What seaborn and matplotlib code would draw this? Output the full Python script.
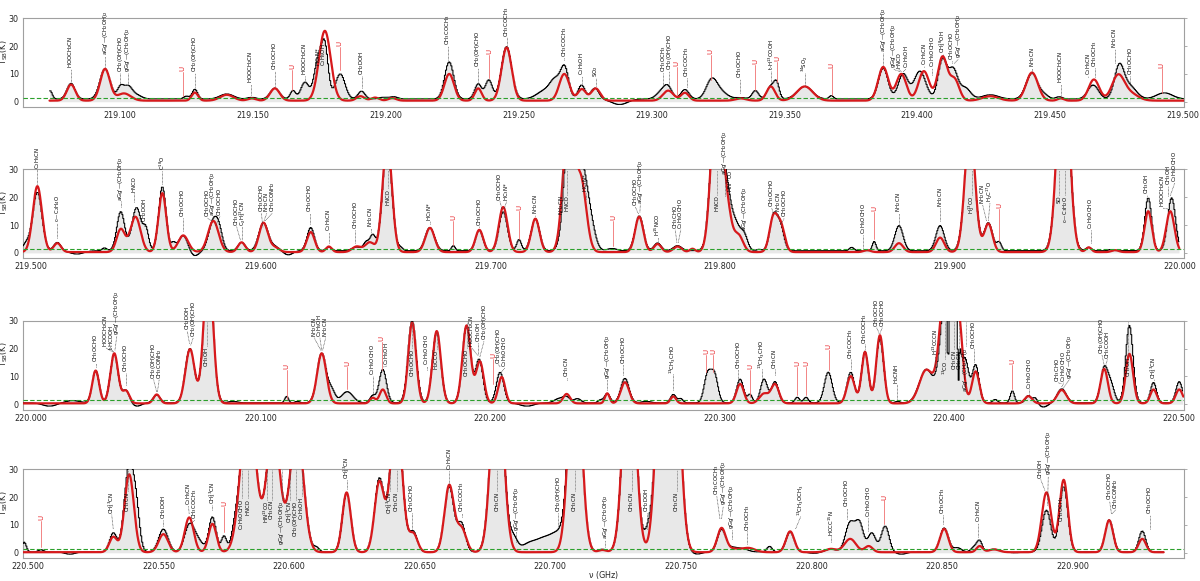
import numpy as np
import matplotlib
matplotlib.use("Agg")
import matplotlib.pyplot as plt
import seaborn as sns

sns.set_theme(style="white")
plt.rcParams["font.family"] = ["DejaVu Sans"]
plt.rcParams["mathtext.default"] = "regular"

# ---------------- species names ----------------
AGG = "aGg'—(CH$_2$OH)$_2$"
GGG = "gGg'—(CH$_2$OH)$_2$"
MF = "CH$_3$OCHO"
GA = "CH$_2$(OH)CHO"
HOOC = "HOOCH$_2$CN"
ETOH = "C$_2$H$_5$OH"
ETCN = "C$_2$H$_5$CN"
EF = "C$_2$H$_5$OCHO"
ACE = "CH$_3$COCH$_3$"
DME = "CH$_3$OCH$_3$"
NH2CN = "NH$_2$CN"
HNCO = "HNCO"
HC3N = "HC$_3$N*"
MECN = "CH$_3$CN"
ME13CN = "CH$_3^{13}$CN"
DOH = "CH$_2$DOH"
MEOH = "CH$_3$OH"
AMID = "CH$_3$CONH$_2$"

# ---------------- panel axis ranges (GHz) ----------------
P1_XLIM = (219.0634, 219.5004)
P2_XLIM = (219.4964, 220.0020)
P3_XLIM = (219.9963, 220.5023)
P4_XLIM = (220.4979, 220.9428)
P1_DATA = (219.0735, 219.5004)
P2_DATA = (219.4966, 220.0000)
P3_DATA = (219.9965, 220.5020)
P4_DATA = (220.4981, 220.9350)
P1_TICKS = [219.100, 219.150, 219.200, 219.250, 219.300, 219.350, 219.400, 219.450, 219.500]
P2_TICKS = [219.500, 219.600, 219.700, 219.800, 219.900, 220.000]
P3_TICKS = [220.000, 220.100, 220.200, 220.300, 220.400, 220.500]
P4_TICKS = [220.500, 220.550, 220.600, 220.650, 220.700, 220.750, 220.800, 220.850, 220.900]
Y_TICKS = [0, 10, 20, 30]
THRESHOLD_K = 1.5
OBS_BASE = [1.0, 0.8, 0.5, 0.3]
MOD_BASE = [0.4, 0.3, 0.3, 0.2]

# ---------------- line components: (centre GHz, peak K, sigma MHz) ----------------
P1_OBS = [
    (219.0737, 3.0, 0.8), (219.0816, 5.6, 1.5), (219.0944, 10.8, 1.9), (219.1002, 4.2, 1.2),
    (219.1030, 4.2, 1.5), (219.1060, 1.5, 2.0), (219.1250, 1.0, 1.0), (219.1282, 3.5, 1.0),
    (219.1402, 1.8, 2.5), (219.1496, 0.6, 1.5), (219.1583, 3.9, 1.7), (219.1651, 3.0, 1.0),
    (219.1696, 6.0, 1.5), (219.1745, 13.0, 1.5), (219.1771, 18.0, 1.3), (219.1829, 9.0, 1.8),
    (219.1909, 2.8, 1.3), (219.1990, 0.6, 1.5), (219.2030, 0.8, 1.5), (219.2239, 13.3, 1.7),
    (219.2348, 5.4, 1.3), (219.2388, 6.8, 1.3), (219.2455, 18.8, 1.9), (219.2600, 3.0, 3.0),
    (219.2640, 6.0, 2.0), (219.2674, 10.5, 1.5), (219.2737, 5.0, 1.3), (219.2787, 3.9, 1.5),
    (219.2880, -2.0, 3.0), (219.3040, 2.8, 2.0), (219.3063, 3.5, 1.5), (219.3126, 3.4, 1.5),
    (219.3226, 6.5, 2.0), (219.3260, 2.5, 2.5), (219.3336, 0.5, 2.0), (219.3391, 3.0, 1.2),
    (219.3449, 4.5, 1.4), (219.3471, 5.3, 1.0), (219.3577, 4.5, 2.8), (219.3677, 1.2, 0.8),
    (219.3872, 11.0, 1.8), (219.3947, 9.0, 1.8), (219.4010, 10.0, 2.2), (219.4095, 14.0, 1.6),
    (219.4135, 10.5, 1.7), (219.4180, 4.0, 2.0), (219.4275, 1.5, 3.0), (219.4432, 9.2, 2.2),
    (219.4480, 1.2, 1.5), (219.4534, 0.8, 1.2), (219.4662, 5.0, 2.0), (219.4760, 11.5, 1.8),
    (219.4800, 4.5, 2.5), (219.4930, 2.2, 3.0),
]
P1_MOD = [
    (219.0816, 5.8, 1.6), (219.0944, 11.4, 1.8), (219.1015, 2.6, 2.5), (219.1282, 2.9, 1.2),
    (219.1402, 2.1, 2.5), (219.1496, 0.8, 1.5), (219.1583, 4.4, 1.8), (219.1771, 25.1, 2.2),
    (219.1905, 1.6, 1.5), (219.1960, 1.1, 1.5), (219.2025, 0.9, 1.5), (219.2239, 9.6, 1.8),
    (219.2348, 4.4, 1.3), (219.2455, 19.1, 1.9), (219.2672, 9.6, 1.9), (219.2738, 4.1, 1.5),
    (219.2790, 4.4, 1.7), (219.3063, 3.6, 2.0), (219.3126, 2.8, 1.5), (219.3336, 0.8, 2.0),
    (219.3449, 5.1, 1.6), (219.3577, 5.1, 3.0), (219.3872, 12.1, 1.9), (219.3940, 9.6, 1.9),
    (219.4025, 10.6, 2.0), (219.4095, 15.6, 1.8), (219.4140, 7.6, 1.8), (219.4275, 1.6, 3.0),
    (219.4432, 10.1, 2.2), (219.4540, 0.8, 1.2), (219.4665, 7.6, 2.0), (219.4755, 8.6, 2.3),
    (219.4800, 2.6, 3.0),
]
P2_OBS = [
    (219.4980, 2.5, 1.5), (219.5028, 21.0, 2.0), (219.5115, 3.0, 1.5), (219.5200, -1.2, 3.0),
    (219.5320, 1.0, 1.0), (219.5391, 14.0, 1.7), (219.5460, 15.5, 2.0), (219.5501, 7.0, 1.2),
    (219.5572, 23.0, 1.6), (219.5620, 2.5, 1.0), (219.5663, 5.5, 2.0), (219.5710, -2.0, 2.0),
    (219.5794, 10.5, 2.0), (219.5820, 5.5, 1.5), (219.5917, 3.0, 1.5), (219.6012, 10.0, 2.0),
    (219.6060, 1.5, 2.0), (219.6120, -1.5, 2.0), (219.6218, 8.3, 1.6), (219.6297, 1.3, 1.2),
    (219.6418, 1.3, 2.0), (219.6460, 3.0, 1.2), (219.6488, 5.5, 1.2), (219.6551, 38.0, 2.0),
    (219.6610, 1.0, 1.0), (219.6737, 8.3, 2.0), (219.6839, 1.8, 0.8), (219.6952, 7.3, 1.6),
    (219.7056, 14.0, 1.8), (219.7125, 4.0, 1.0), (219.7196, 11.5, 1.8), (219.7347, 50.0, 2.3),
    (219.7400, 28.0, 2.5), (219.7440, 6.0, 2.0), (219.7530, 0.8, 2.0), (219.7648, 12.5, 1.8),
    (219.7728, 2.8, 1.5), (219.7815, 1.8, 1.8), (219.7985, 60.0, 2.3), (219.8030, 17.0, 2.0),
    (219.8070, 8.5, 2.0), (219.8106, 5.0, 1.5), (219.8170, 0.5, 1.0), (219.8232, 12.0, 1.6),
    (219.8262, 8.5, 1.6), (219.8573, 1.2, 1.0), (219.8671, 3.3, 0.8), (219.8779, 9.0, 1.8),
    (219.8958, 9.0, 1.8), (219.9088, 45.0, 2.2), (219.9168, 10.0, 1.8), (219.9215, 3.0, 1.0),
    (219.9494, 75.0, 2.5), (219.9605, 1.2, 1.2), (219.9700, 0.4, 1.0), (219.9864, 19.0, 1.5),
    (219.9966, 19.0, 1.7),
]
P2_MOD = [
    (219.5028, 23.7, 2.0), (219.5115, 3.2, 1.6), (219.5391, 8.2, 1.8), (219.5455, 12.7, 2.2),
    (219.5572, 21.2, 1.7), (219.5663, 6.0, 2.2), (219.5794, 11.2, 2.3), (219.5917, 3.5, 1.6),
    (219.6012, 10.5, 1.9), (219.6060, 1.7, 2.0), (219.6218, 7.2, 1.7), (219.6297, 2.0, 1.3),
    (219.6418, 2.0, 2.0), (219.6475, 3.5, 2.0), (219.6551, 40.0, 2.0), (219.6737, 8.7, 2.0),
    (219.6952, 8.0, 1.7), (219.7056, 16.2, 1.9), (219.7196, 12.0, 1.8), (219.7340, 48.0, 2.3),
    (219.7395, 25.0, 2.3), (219.7648, 12.7, 1.8), (219.7728, 2.9, 1.6), (219.7815, 2.0, 1.8),
    (219.7880, 1.2, 1.2), (219.7985, 60.0, 2.3), (219.8030, 14.0, 2.0), (219.8080, 6.0, 2.0),
    (219.8232, 12.2, 1.7), (219.8265, 9.2, 1.7), (219.8640, 0.7, 1.5), (219.8779, 3.2, 1.8),
    (219.8958, 5.2, 1.8), (219.9088, 45.0, 2.2), (219.9168, 10.2, 1.8), (219.9494, 75.0, 2.5),
    (219.9605, 1.7, 1.2), (219.9720, 0.7, 1.5), (219.9864, 14.7, 1.6), (219.9960, 14.7, 1.8),
]
P3_OBS = [
    (220.0080, -1.2, 3.0), (220.0180, 0.8, 3.0), (220.0281, 11.5, 1.5), (220.0362, 17.5, 1.7),
    (220.0413, 4.5, 1.5), (220.0460, -1.2, 2.0), (220.0547, 2.8, 1.5), (220.0692, 19.5, 2.0),
    (220.0772, 50.0, 2.0), (220.0880, 0.5, 2.0), (220.1113, 2.3, 0.8), (220.1160, 0.5, 1.0),
    (220.1266, 17.8, 2.0), (220.1310, 4.0, 1.5), (220.1377, 4.0, 2.5), (220.1488, 2.5, 1.2),
    (220.1532, 12.0, 1.6), (220.1660, 29.5, 1.8), (220.1767, 25.5, 1.8), (220.1897, 27.5, 1.8),
    (220.1952, 15.5, 1.6), (220.2043, 11.0, 1.6), (220.2160, -1.2, 3.0), (220.2300, 1.5, 2.0),
    (220.2333, 2.0, 1.5), (220.2380, 1.5, 1.5), (220.2480, 1.0, 1.0), (220.2510, 3.4, 1.2),
    (220.2587, 8.8, 1.8), (220.2680, 0.5, 2.0), (220.2798, 3.0, 1.2), (220.2830, 1.5, 1.0),
    (220.2947, 10.0, 1.5), (220.2977, 10.0, 1.5), (220.3089, 8.5, 1.5), (220.3132, 3.0, 1.0),
    (220.3193, 8.5, 1.5), (220.3241, 7.6, 1.5), (220.3338, 2.0, 1.0), (220.3376, 2.0, 1.0),
    (220.3473, 11.0, 1.7), (220.3571, 11.0, 1.6), (220.3633, 18.5, 1.5), (220.3698, 23.0, 1.6),
    (220.3775, 0.5, 1.0), (220.3900, 12.0, 3.0), (220.3990, 45.0, 2.5), (220.4030, 25.0, 1.5),
    (220.4070, 15.0, 1.5), (220.3995, -35.0, 0.3), (220.4040, -20.0, 0.3), (220.4115, 13.6, 1.5),
    (220.4200, 1.2, 1.0), (220.4275, 4.3, 0.9), (220.4345, 2.6, 1.2), (220.4375, 2.0, 1.0),
    (220.4410, -1.5, 2.0), (220.4490, 5.0, 2.0), (220.4675, 12.4, 1.6), (220.4705, 6.0, 1.5),
    (220.4785, 27.8, 1.6), (220.4890, 7.3, 1.3), (220.5002, 7.6, 1.4),
]
P3_MOD = [
    (220.0281, 11.8, 1.5), (220.0362, 18.0, 1.7), (220.0413, 4.5, 1.5), (220.0547, 3.2, 1.4),
    (220.0692, 19.5, 2.0), (220.0772, 50.0, 2.0), (220.1266, 18.0, 2.0), (220.1488, 2.0, 1.2),
    (220.1532, 5.0, 1.4), (220.1660, 29.0, 1.7), (220.1767, 26.0, 1.8), (220.1897, 28.0, 1.8),
    (220.1955, 15.0, 1.7), (220.2050, 9.5, 1.5), (220.2333, 3.4, 1.5), (220.2510, 3.6, 1.0),
    (220.2587, 7.6, 1.8), (220.2798, 2.5, 1.2), (220.3089, 7.0, 1.6), (220.3193, 3.5, 2.0),
    (220.3241, 6.8, 1.7), (220.3571, 9.8, 1.7), (220.3633, 18.5, 1.5), (220.3698, 24.5, 1.6),
    (220.3900, 12.0, 3.0), (220.3985, 45.0, 2.5), (220.4040, 30.0, 1.8), (220.4115, 11.5, 1.6),
    (220.4345, 2.6, 1.6), (220.4490, 4.8, 2.0), (220.4675, 12.4, 1.6), (220.4785, 17.8, 1.6),
    (220.4890, 5.0, 1.4), (220.5002, 5.0, 1.5),
]
P4_OBS = [
    (220.4985, 3.5, 0.8), (220.5049, 0.8, 1.0), (220.5160, -0.8, 2.0), (220.5326, 6.8, 1.4),
    (220.5387, 31.0, 1.8), (220.5415, 12.0, 1.3), (220.5518, 8.2, 1.8), (220.5617, 9.2, 1.8),
    (220.5650, 4.0, 2.0), (220.5706, 12.5, 1.4), (220.5750, 5.5, 1.0), (220.5790, 3.5, 1.2),
    (220.5843, 55.0, 2.8), (220.5939, 45.0, 2.5), (220.6029, 45.0, 2.5), (220.6105, 1.5, 1.0),
    (220.6220, 21.0, 1.6), (220.6345, 26.0, 1.8), (220.6410, 50.0, 2.2), (220.6476, 7.0, 1.5),
    (220.6613, 23.5, 1.8), (220.6660, 10.0, 1.5), (220.6797, 70.0, 2.3), (220.6860, 4.5, 1.5),
    (220.6920, 3.0, 3.0), (220.6980, 4.5, 3.0), (220.7030, 5.5, 2.5), (220.7095, 80.0, 2.3),
    (220.7200, 1.0, 1.5), (220.7303, 80.0, 2.3), (220.7375, 6.0, 1.5), (220.7430, 80.0, 2.3),
    (220.7474, 80.0, 2.3), (220.7560, -0.8, 2.0), (220.7656, 8.0, 1.6), (220.7700, 1.5, 2.0),
    (220.7740, 1.0, 2.0), (220.7840, 2.0, 1.0), (220.7919, 7.2, 1.6), (220.8010, -0.5, 2.0),
    (220.8075, 1.0, 2.0), (220.8149, 10.5, 1.8), (220.8185, 9.8, 1.5), (220.8232, 6.8, 1.5),
    (220.8283, 9.3, 1.5), (220.8345, -0.8, 2.0), (220.8509, 8.6, 1.6), (220.8560, 1.5, 1.5),
    (220.8625, 1.8, 1.2), (220.8645, 3.8, 1.0), (220.8700, 1.0, 2.0), (220.8780, -0.3, 2.0),
    (220.8901, 15.0, 1.7), (220.8967, 23.5, 1.6), (220.9141, 11.5, 1.5), (220.9268, 7.5, 1.3),
]
P4_MOD = [
    (220.5326, 5.5, 1.5), (220.5387, 28.0, 1.8), (220.5518, 6.5, 1.8), (220.5617, 12.5, 1.7),
    (220.5706, 10.2, 1.5), (220.5843, 55.0, 2.8), (220.5939, 45.0, 2.5), (220.6029, 45.0, 2.5),
    (220.6220, 21.5, 1.6), (220.6345, 25.0, 1.8), (220.6410, 50.0, 2.2), (220.6476, 6.5, 1.6),
    (220.6613, 24.0, 1.8), (220.6660, 8.5, 1.8), (220.6797, 70.0, 2.3), (220.7095, 80.0, 2.3),
    (220.7200, 0.8, 1.5), (220.7303, 80.0, 2.3), (220.7430, 80.0, 2.3), (220.7474, 80.0, 2.3),
    (220.7656, 8.5, 1.6), (220.7700, 1.2, 2.5), (220.7760, 1.5, 2.5), (220.7919, 7.5, 1.6),
    (220.8075, 1.2, 2.0), (220.8149, 4.8, 2.2), (220.8220, 2.2, 1.5), (220.8509, 8.4, 1.6),
    (220.8645, 2.2, 1.2), (220.8700, 1.0, 2.0), (220.8901, 21.5, 1.8), (220.8967, 26.0, 1.6),
    (220.9141, 11.5, 1.5), (220.9268, 4.8, 1.4),
]

# ---------------- line identifications ----------------
# (text freq, line freq, label, line bottom K, text bottom K)
P1_LBL = [
    (219.0816, 219.0816, HOOC, 6.8, 12.0), (219.0944, 219.0944, AGG, 12.6, 16.8),
    (219.1002, 219.1002, GA, 6.0, 10.8), (219.1030, 219.1030, GGG, 6.0, 10.8),
    (219.1282, 219.1282, GA, 5.2, 10.8), (219.1492, 219.1492, HOOC, 2.4, 6.6),
    (219.1583, 219.1583, MF, 5.6, 11.4), (219.1696, 219.1696, HOOC, 7.2, 9.6),
    (219.1746, 219.1746, HC3N, 13.0, 13.0), (219.1767, 219.1767, ETOH, 13.0, 13.0),
    (219.1909, 219.1909, DOH, 4.8, 9.6), (219.2233, 219.2233, ACE, 15.0, 20.4),
    (219.2346, 219.2346, GA, 7.2, 12.6), (219.2455, 219.2455, ACE, 20.4, 23.4),
    (219.2672, 219.2672, ACE, 15.0, 16.2), (219.2738, 219.2738, ETOH, 6.6, 9.6),
    (219.2791, 219.2791, "SO$_2$", 5.6, 9.0), (219.3045, 219.3045, DME, 5.6, 10.8),
    (219.3066, 219.3066, GA, 6.0, 11.4), (219.3133, 219.3133, ACE, 5.4, 9.0),
    (219.3333, 219.3333, MF, 3.0, 8.4), (219.3450, 219.3450, "t-H$^{13}$COOH", 6.6, 11.4),
    (219.3578, 219.3578, "$^{34}$SO$_2$", 6.0, 10.8), (219.3872, 219.3872, AGG, 13.2, 18.0),
    (219.3910, 219.3935, GGG, 10.8, 12.0), (219.3931, 219.3940, HNCO, 10.8, 12.0),
    (219.3958, 219.3947, ETOH, 10.8, 12.0), (219.4027, 219.4027, ETCN, 12.6, 13.2),
    (219.4056, 219.4056, EF, 9.6, 12.6), (219.4096, 219.4096, "CH$_3^{18}$OH", 16.8, 17.4),
    (219.4130, 219.4130, MF, 13.8, 15.0), (219.4155, 219.4140, GGG, 13.8, 15.6),
    (219.4433, 219.4433, NH2CN, 10.8, 12.6), (219.4541, 219.4541, HOOC, 2.4, 6.6),
    (219.4644, 219.4644, ETCN, 9.0, 9.6), (219.4669, 219.4669, DME, 9.0, 12.6),
    (219.4744, 219.4744, NH2CN, 13.8, 19.2), (219.4801, 219.4801, MF, 6.0, 9.6),
]
P2_LBL = [
    (219.5028, 219.5028, ETCN, 24.9, 30.3), (219.5115, 219.5115, "c—C$_2$H$_4$O", 5.2, 11.0),
    (219.5391, 219.5391, AGG, 16.4, 18.8), (219.5449, 219.5449, HNCO, 18.2, 21.9),
    (219.5493, 219.5493, DOH, 9.8, 11.0), (219.5572, 219.5572, "C$^{18}$O", 24.9, 29.7),
    (219.5661, 219.5661, MF, 8.0, 12.8), (219.5769, 219.5785, MF, 11.6, 12.8),
    (219.5791, 219.5791, AGG, 12.4, 13.4), (219.5823, 219.5805, MF, 9.8, 13.4),
    (219.5895, 219.5912, MF, 4.6, 9.8), (219.5921, 219.5920, "C$_2$H$_3^{13}$CN", 4.6, 9.8),
    (219.6003, 219.6010, MF, 9.2, 14.6), (219.6027, 219.6015, NH2CN, 11.6, 14.6),
    (219.6050, 219.6020, AMID, 11.6, 14.6), (219.6215, 219.6215, MF, 10.4, 14.6),
    (219.6297, 219.6297, ETCN, 3.7, 8.0), (219.6411, 219.6411, MF, 3.4, 8.6),
    (219.6479, 219.6479, NH2CN, 7.6, 9.2), (219.6737, 219.6737, HC3N, 10.4, 11.6),
    (219.6952, 219.6952, MF, 9.2, 9.8), (219.7042, 219.7050, MF, 15.8, 18.8),
    (219.7071, 219.7060, HC3N, 15.8, 18.8), (219.7196, 219.7196, NH2CN, 13.4, 14.0),
    (219.7415, 219.7415, HC3N, 19.4, 21.9), (219.7630, 219.7645, MF, 14.0, 17.0),
    (219.7653, 219.7651, AGG, 14.6, 17.6), (219.7728, 219.7728, "H$^{15}$NCO", 4.3, 6.2),
    (219.7805, 219.7812, "CH$_3$CHO", 3.7, 8.6), (219.7829, 219.7818, EF, 3.7, 8.6),
    (219.8021, 219.8021, AGG, 20.6, 27.9), (219.8044, 219.8044, "HN$^{13}$CO", 19.4, 21.9),
    (219.8106, 219.8106, AGG, 6.8, 8.0), (219.8225, 219.8232, MF, 14.0, 16.4),
    (219.8253, 219.8253, NH2CN, 12.8, 14.6), (219.8280, 219.8265, MF, 10.4, 12.8),
    (219.8624, 219.8624, EF, 1.9, 6.8), (219.8779, 219.8779, NH2CN, 10.4, 14.6),
    (219.8958, 219.8958, NH2CN, 11.6, 16.4), (219.9143, 219.9160, NH2CN, 11.6, 17.6),
    (219.9175, 219.9168, "H$_2$C$^{17}$O", 11.6, 18.2), (219.9613, 219.9613, EF, 3.7, 8.6),
    (219.9857, 219.9857, MEOH, 20.6, 21.3), (219.9927, 219.9950, HOOC, 15.8, 16.4),
    (219.9952, 219.9952, MEOH, 20.6, 24.3), (219.9980, 219.9960, EF, 20.6, 25.5),
]
P3_LBL = [
    (220.0281, 220.0281, MF, 13.4, 15.2), (220.0324, 220.0355, HOOC, 18.8, 20.6),
    (220.0348, 220.0360, "t-HCOOH", 18.8, 20.0), (220.0373, 220.0365, GGG, 19.4, 24.8),
    (220.0413, 220.0413, MF, 6.8, 11.6), (220.0533, 220.0547, GA, 4.4, 9.2),
    (220.0558, 220.0550, AMID, 4.4, 9.2), (220.0680, 220.0690, DOH, 21.8, 26.6),
    (220.0706, 220.0695, GA, 21.2, 24.2), (220.1233, 220.1262, NH2CN, 19.4, 24.2),
    (220.1258, 220.1266, ETOH, 19.4, 24.2), (220.1283, 220.1270, NH2CN, 19.4, 24.2),
    (220.1488, 220.1488, EF, 3.2, 10.4), (220.1549, 220.1535, ETOH, 13.4, 14.0),
    (220.1723, 220.1723, EF, 12.2, 14.0), (220.1919, 220.1945, HOOC, 17.6, 20.6),
    (220.1948, 220.1950, MEOH, 17.6, 22.4), (220.1973, 220.1955, GA, 17.0, 23.0),
    (220.2035, 220.2043, GA, 13.4, 14.6), (220.2064, 220.2050, EF, 11.6, 13.4),
    (220.2333, 220.2333, MECN, 8.6, 9.8), (220.2510, 220.2510, GGG, 5.0, 9.2),
    (220.2580, 220.2580, MF, 10.4, 14.6), (220.2795, 220.2795, "$^{13}$CH$_3$CHO", 5.0, 11.0),
    (220.3081, 220.3081, MF, 8.6, 12.8), (220.3183, 220.3183, "$^{13}$CH$_3$CHO", 8.0, 12.8),
    (220.3241, 220.3241, MECN, 10.4, 12.8), (220.3571, 220.3571, ACE, 12.8, 16.4),
    (220.3633, 220.3633, ACE, 20.0, 21.8), (220.3684, 220.3695, MF, 25.4, 27.8),
    (220.3708, 220.3698, MF, 25.4, 27.8), (220.3771, 220.3771, "H$_2$CNH", 2.0, 7.4),
    (220.3938, 220.3938, "H$^{13}$CCCN", 13.4, 17.6), (220.4108, 220.4108, MF, 15.2, 20.0),
    (220.4348, 220.4348, EF, 3.8, 5.6), (220.4474, 220.4488, "CH$_3$CHO", 7.4, 8.0),
    (220.4499, 220.4490, EF, 6.2, 8.0), (220.4524, 220.4495, GGG, 5.6, 9.2),
    (220.4665, 220.4675, GA, 14.0, 18.2), (220.4689, 220.4680, "CH$_3$COOH", 13.4, 16.4),
    (220.4892, 220.4892, ME13CN, 8.6, 9.2),
]
P4_LBL = [
    (220.5320, 220.5326, ME13CN, 8.6, 14.0), (220.5518, 220.5518, DOH, 9.8, 12.2),
    (220.5614, 220.5617, ETCN, 14.0, 17.0), (220.5639, 220.5625, ACE, 10.4, 12.2),
    (220.5705, 220.5705, ME13CN, 15.2, 17.6), (220.6220, 220.6220, ME13CN, 23.0, 26.6),
    (220.6469, 220.6469, MF, 8.6, 14.6), (220.6613, 220.6613, ETCN, 24.8, 29.6),
    (220.6661, 220.6661, ACE, 12.8, 14.6), (220.6869, 220.6869, GGG, 4.0, 8.0),
    (220.7031, 220.7031, GA, 9.8, 14.6), (220.7210, 220.7210, AGG, 2.0, 5.0),
    (220.7370, 220.7370, DOH, 8.5, 14.6), (220.7638, 220.7650, ACE, 12.2, 20.6),
    (220.7663, 220.7656, GGG, 12.2, 17.0), (220.7695, 220.7695, GGG, 5.0, 8.6),
    (220.7755, 220.7755, DME, 3.2, 8.0), (220.7960, 220.7940, "$^{13}$CH$_3$OCH$_3$", 8.6, 13.4),
    (220.8075, 220.8075, "HCCC$^{15}$N", 3.8, 6.2), (220.8136, 220.8136, MF, 12.2, 16.4),
    (220.8219, 220.8219, EF, 8.0, 12.8), (220.8504, 220.8504, DME, 10.4, 14.0),
    (220.8640, 220.8640, ETCN, 5.6, 11.0), (220.8879, 220.8895, MEOH, 22.4, 26.6),
    (220.8908, 220.8905, GGG, 17.0, 27.8), (220.9143, 220.9150, MF, 14.0, 18.8),
    (220.9167, 220.9152, AMID, 14.0, 15.8), (220.9296, 220.9296, MF, 8.6, 14.0),
]
# labels hanging below the top of the frame: (freq, label, text top K, line top K)
P1_HANG = []
P2_HANG = [
    (219.6556, HNCO, 23.0, 29.7), (219.7311, NH2CN, 20.6, 29.7), (219.7332, HNCO, 20.6, 29.7),
    (219.7985, HNCO, 20.6, 29.7), (219.9095, "H$_2^{13}$CO", 20.6, 29.7),
    (219.9477, "SO", 20.6, 29.7), (219.9502, "c—C$_3$H$_2$O", 20.6, 29.7),
]
P3_HANG = [
    (220.0765, MEOH, 20.6, 29.7), (220.1661, MF, 20.0, 29.7), (220.1767, "H$_2$CCO", 19.4, 26.0),
    (220.1897, MF, 20.0, 29.7), (220.3981, "$^{13}$CO", 15.8, 29.7), (220.4021, MECN, 19.4, 29.7),
    (220.4044, MECN, 19.4, 29.7), (220.4072, AGG, 20.6, 29.7), (220.4780, MEOH, 17.0, 29.7),
]
P4_HANG = [
    (220.5381, MECN, 21.8, 29.7), (220.5818, EF, 19.4, 29.7), (220.5843, HNCO, 19.4, 29.7),
    (220.5914, "HN$^{13}$CO", 18.8, 29.7), (220.5933, MECN, 18.8, 29.7), (220.5971, GGG, 18.8, 29.7),
    (220.6003, ME13CN, 18.8, 29.7), (220.6026, GA, 18.8, 29.7), (220.6048, ETOH, 20.0, 29.7),
    (220.6386, ME13CN, 21.8, 29.7), (220.6412, MECN, 21.8, 29.7), (220.6797, MECN, 21.8, 29.7),
    (220.7095, MECN, 21.8, 29.7), (220.7312, MECN, 21.8, 29.7), (220.7485, MECN, 21.8, 29.7),
    (220.8959, DME, 20.6, 24.0),
]
# unidentified lines: (freq, line bottom K, line top K)
P1_U = [
    (219.1236, 2.0, 10.8), (219.1647, 4.2, 11.4), (219.1827, 11.4, 19.8), (219.2389, 8.4, 16.8),
    (219.3095, 2.4, 12.6), (219.3223, 7.8, 16.8), (219.3390, 4.2, 13.2), (219.3472, 7.2, 14.4),
    (219.3678, 2.4, 12.0), (219.4920, 3.0, 12.0),
]
P2_U = [(219.6839, 2.8, 11.6), (219.7125, 5.0, 15.2), (219.7535, 2.5, 11.6), (219.8671, 5.0, 14.6),
        (219.9215, 4.3, 15.8)]
P3_U = [
    (220.1113, 2.0, 12.2), (220.1377, 5.3, 13.4), (220.1527, 12.2, 22.3), (220.2014, 7.4, 16.4),
    (220.2940, 11.6, 17.6), (220.2972, 11.6, 17.6), (220.3132, 2.6, 12.2), (220.3338, 3.2, 13.4),
    (220.3376, 3.2, 13.4), (220.3475, 12.2, 19.4), (220.4275, 5.6, 14.0),
]
P4_U = [(220.5049, 2.0, 11.6), (220.5750, 7.4, 16.4), (220.8280, 10.4, 18.8)]

PANELS = [
    (P1_XLIM, P1_DATA, P1_TICKS, P1_OBS, P1_MOD, P1_LBL, P1_HANG, P1_U),
    (P2_XLIM, P2_DATA, P2_TICKS, P2_OBS, P2_MOD, P2_LBL, P2_HANG, P2_U),
    (P3_XLIM, P3_DATA, P3_TICKS, P3_OBS, P3_MOD, P3_LBL, P3_HANG, P3_U),
    (P4_XLIM, P4_DATA, P4_TICKS, P4_OBS, P4_MOD, P4_LBL, P4_HANG, P4_U),
]


def spectrum(grid, comps, base):
    y = np.full_like(grid, base)
    for f, a, s in comps:
        y += a * np.exp(-0.5 * ((grid - f) / (s * 1e-3)) ** 2)
    return y


fig = plt.figure(figsize=(12, 5.81), dpi=100)
bottoms = [0.8153, 0.5551, 0.2947, 0.0390]
SPINE = "#a0a0a0"
LBL_FS = 3.9

for i, (xlim, drange, ticks, obs, mod, lbl, hang, ulist) in enumerate(PANELS):
    ax = fig.add_axes([0.0189, bottoms[i], 0.9678, 0.1532])
    chan = np.arange(drange[0], drange[1], 0.00040)
    fine = np.arange(drange[0], drange[1], 0.00005)
    yo = spectrum(chan, obs, OBS_BASE[i])
    ym = spectrum(fine, mod, MOD_BASE[i])
    ax.fill_between(chan, yo, 0, step="mid", color="#e8e8e8", lw=0, zorder=1)
    sns.lineplot(x=chan, y=yo, ax=ax, color="black", lw=0.75, drawstyle="steps-mid",
                 estimator=None, sort=False, zorder=3)
    sns.lineplot(x=fine, y=ym, ax=ax, color="#d7191c", lw=1.6, estimator=None, sort=False, zorder=4)
    ax.axhline(THRESHOLD_K, color="#2ca02c", lw=0.8, ls=(0, (4, 2)), zorder=5)

    for ft, fp, txt, yl, yt in lbl:
        if yt - yl > 0.2:
            ax.plot([fp, ft], [yl, yt - 0.3], color="#333333", lw=0.5, ls=(0, (1, 1)),
                    clip_on=False, zorder=6)
        ax.text(ft, yt, txt, rotation=90, ha="center", va="bottom", fontsize=LBL_FS,
                color="black", zorder=7)
    for f, txt, ytop, yline in hang:
        ax.plot([f, f], [ytop + 0.3, yline], color="#555555", lw=0.5, ls=(0, (1, 1)), zorder=6)
        ax.text(f, ytop, txt, rotation=90, ha="center", va="top", fontsize=LBL_FS,
                color="black", zorder=7)
    for f, yb, yt in ulist:
        ax.plot([f, f], [yb, yt], color="#f07070", lw=0.6, zorder=6)
        ax.text(f, yt + 0.3, "U", rotation=90, ha="center", va="bottom", fontsize=5.0,
                color="#e8262b", zorder=7)

    ax.set_xlim(*xlim)
    ax.set_ylim(-2, 30)
    ax.set_xticks(ticks)
    ax.set_xticklabels([f"{t:.3f}" for t in ticks])
    ax.set_yticks(Y_TICKS)
    ax.set_yticklabels([str(t) for t in Y_TICKS])
    ax.tick_params(axis="both", labelsize=5.8, length=1.8, width=0.6, color=SPINE, pad=1.0,
                   direction="out")
    ax.tick_params(axis="y", right=True)
    for sp in ax.spines.values():
        sp.set_color(SPINE)
        sp.set_linewidth(0.8)
    ax.set_ylabel("$T_{\\rm SB}$(K)", fontsize=5.8)
    ax.yaxis.set_label_coords(-0.0108, 0.62)
    if i == 3:
        ax.set_xlabel("$\\nu$ (GHz)", fontsize=5.8)
        ax.xaxis.set_label_coords(0.5, -0.12)

fig.savefig("out.png", dpi=100)
